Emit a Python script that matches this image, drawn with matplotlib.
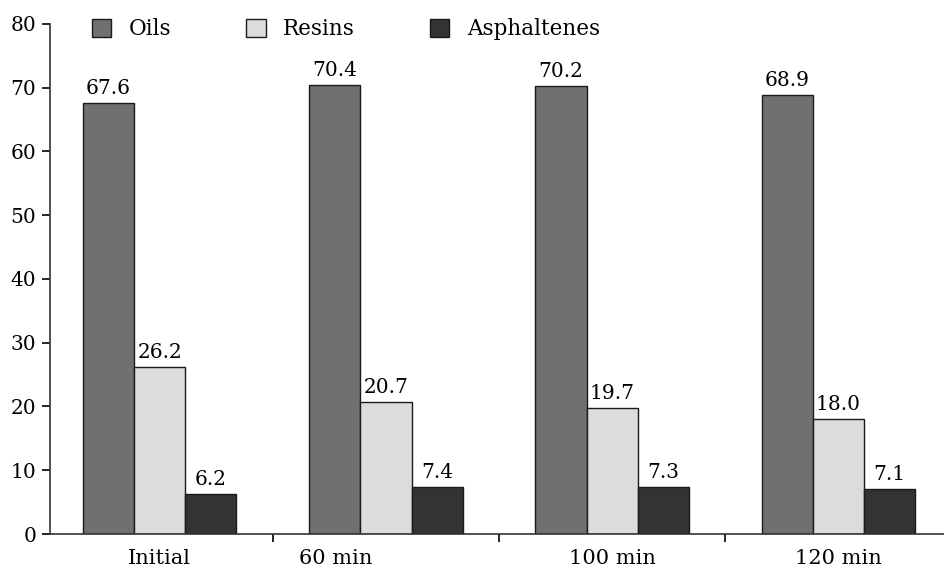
import matplotlib
matplotlib.use("Agg")
import matplotlib.pyplot as plt
import numpy as np

plt.rcParams['font.family'] = ['DejaVu Serif']

# data
groups = ['Initial', '60 min', '100 min', '120 min']
series = ['Oils', 'Resins', 'Asphaltenes']
oils = [67.6, 70.4, 70.2, 68.9]
resins = [26.2, 20.7, 19.7, 18.0]
asphaltenes = [6.2, 7.4, 7.3, 7.1]
colors = ['#707070', '#dcdcdc', '#333333']

fig = plt.figure(figsize=(9.44, 5.69), dpi=100)
ax = fig.add_axes([0.053, 0.0615, 0.947, 0.8965])

x = np.arange(len(groups))
w = 0.226
for i, (name, vals, c) in enumerate(zip(series, [oils, resins, asphaltenes], colors)):
    pos = x + (i - 1) * w
    ax.bar(pos, vals, width=w, color=c, edgecolor='#1a1a1a', linewidth=1.0, label=name)
    for p, v in zip(pos, vals):
        ax.text(p, v + 0.8, f'{v:.1f}', ha='center', va='bottom', fontsize=14.5)

ax.set_xlim(-0.485, 3.467)
ax.set_ylim(0, 80)
ax.set_yticks(range(0, 81, 10))

# tick marks between groups, labels placed separately
ax.set_xticks([0.5, 1.5, 2.5], minor=True)
ax.tick_params(axis='x', which='minor', length=6, width=1.2, direction='out')
label_pos = [0, 0.78, 2, 3]
ax.set_xticks(label_pos)
ax.set_xticklabels(groups)
ax.tick_params(axis='x', which='major', length=0, pad=11, labelsize=15)
ax.tick_params(axis='y', length=6, width=1.2, direction='out', labelsize=14.5, pad=4)

for s in ['top', 'right']:
    ax.spines[s].set_visible(False)
for s in ['left', 'bottom']:
    ax.spines[s].set_linewidth(1.2)
    ax.spines[s].set_color('#333333')

ax.legend(loc='center left', bbox_to_anchor=(0.037, 0.99), ncol=3, frameon=False,
          fontsize=15.5, handlelength=0.9, handleheight=0.9, handletextpad=0.8,
          columnspacing=3.5, borderaxespad=0)

fig.savefig('out.png', dpi=100)
